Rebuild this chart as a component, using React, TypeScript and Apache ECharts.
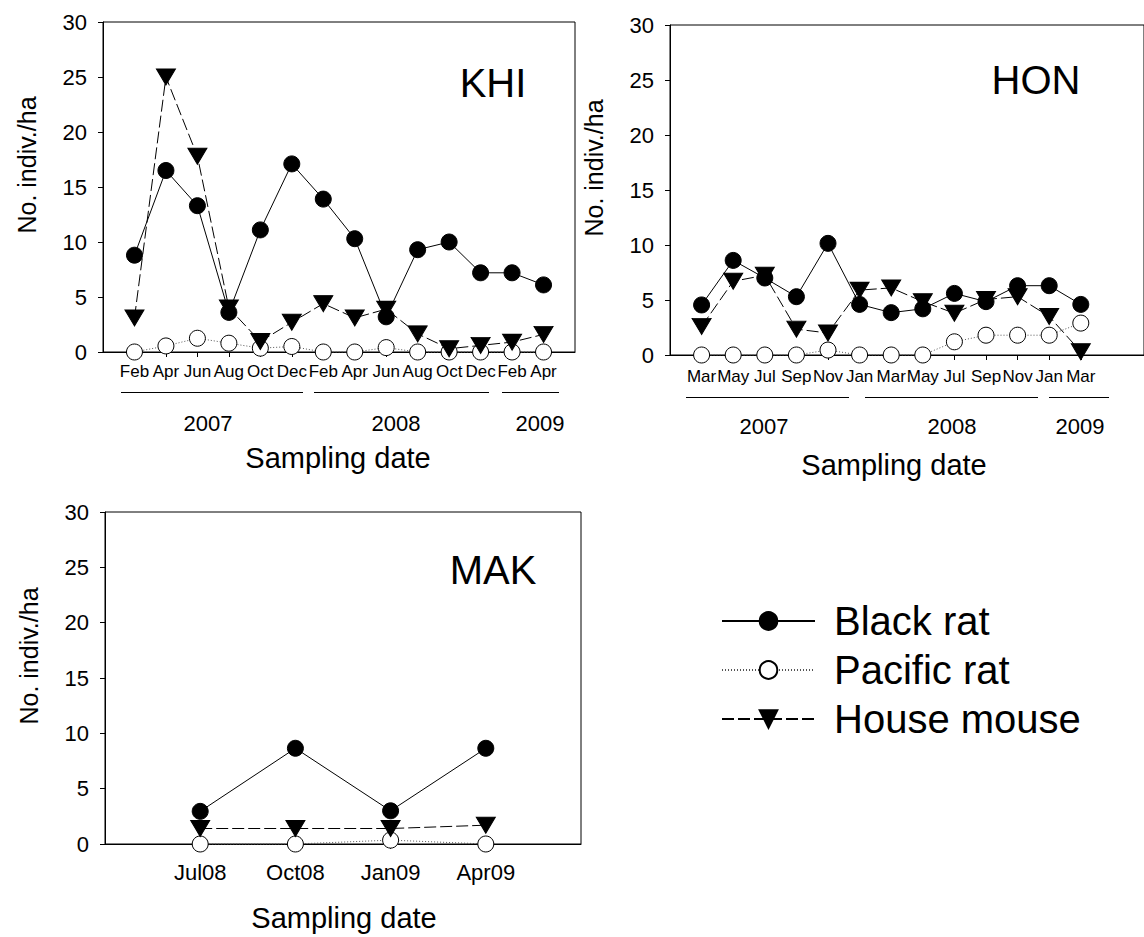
import React, { useEffect, useRef } from "react";
import * as echarts from "echarts";

const FONT = "'Liberation Sans', Arial, Helvetica, sans-serif";

// KHI panel
const khiMonths = ["Feb", "Apr", "Jun", "Aug", "Oct", "Dec", "Feb", "Apr", "Jun", "Aug", "Oct", "Dec", "Feb", "Apr"];
const khiBlack = [8.8, 16.5, 13.3, 3.6, 11.1, 17.1, 13.9, 10.3, 3.2, 9.3, 10.0, 7.2, 7.2, 6.1];
const khiPacific = [0, 0.55, 1.25, 0.8, 0.35, 0.5, 0, 0, 0.4, 0, 0, 0, 0, 0];
const khiMouse = [3.1, 25.0, 17.8, 4.0, 0.95, 2.7, 4.4, 3.1, 3.9, 1.65, 0.3, 0.6, 0.9, 1.6];

// HON panel
const honMonths = ["Mar", "May", "Jul", "Sep", "Nov", "Jan", "Mar", "May", "Jul", "Sep", "Nov", "Jan", "Mar"];
const honBlack = [4.55, 8.6, 7.0, 5.3, 10.15, 4.6, 3.85, 4.2, 5.6, 4.85, 6.3, 6.3, 4.6];
const honPacific = [0, 0, 0, 0, 0.45, 0, 0, 0, 1.2, 1.8, 1.8, 1.8, 2.9];
const honMouse = [2.6, 6.7, 7.25, 2.35, 2.0, 5.9, 6.1, 4.85, 3.8, 5.05, 5.3, 3.5, 0.3];

// MAK panel
const makLabels = ["Jul08", "Oct08", "Jan09", "Apr09"];
const makBlack = [2.95, 8.65, 3.0, 8.65];
const makPacific = [0, 0, 0.35, 0];
const makMouse = [1.4, 1.4, 1.4, 1.7];

const yTicks = [0, 5, 10, 15, 20, 25, 30];
const speciesNames = ["Black rat", "Pacific rat", "House mouse"];

const toPairs = (arr: number[]) => arr.map((v, i) => [i + 1, v]);
const range1 = (n: number) => Array.from({ length: n }, (_, i) => i + 1);

function xAxisFor(gridIndex: number, max: number, labels: string[], fontSize: number, margin: number) {
  return {
    type: "value",
    gridIndex,
    min: 0,
    max,
    interval: 1,
    axisLine: { show: true, onZero: false, lineStyle: { color: "#000", width: 1 } },
    axisTick: { show: true, inside: false, length: 5, customValues: range1(labels.length), lineStyle: { color: "#000" } },
    axisLabel: {
      show: true,
      customValues: range1(labels.length),
      formatter: (v: number) => labels[Math.round(v) - 1] ?? "",
      color: "#000",
      fontFamily: FONT,
      fontSize,
      margin,
    },
    splitLine: { show: false },
  };
}

function yAxisFor(gridIndex: number) {
  return {
    type: "value",
    gridIndex,
    min: 0,
    max: 30,
    interval: 5,
    name: "No. indiv./ha",
    nameLocation: "middle",
    nameRotate: 90,
    nameGap: 64,
    nameTextStyle: { color: "#000", fontFamily: FONT, fontSize: 25, padding: [0, 0, 0, 44] },
    axisLine: { show: true, lineStyle: { color: "#000", width: 1 } },
    axisTick: { show: true, inside: false, length: 5, lineStyle: { color: "#000" } },
    axisLabel: {
      color: "#000",
      fontFamily: FONT,
      fontSize: 22,
      margin: 16,
      formatter: (v: number) => (yTicks.includes(v) ? String(v) : ""),
    },
    splitLine: { show: false },
  };
}

function seriesFor(idx: number, black: number[], pacific: number[], mouse: number[]) {
  return [
    {
      name: speciesNames[0],
      type: "line",
      xAxisIndex: idx,
      yAxisIndex: idx,
      data: toPairs(black),
      symbol: "circle",
      symbolSize: 16,
      clip: false,
      lineStyle: { color: "#000", width: 1, type: "solid" },
      itemStyle: { color: "#000", borderColor: "#000", borderWidth: 1 },
      z: 2,
    },
    {
      name: speciesNames[1],
      type: "line",
      xAxisIndex: idx,
      yAxisIndex: idx,
      data: toPairs(pacific),
      symbol: "circle",
      symbolSize: 16,
      clip: false,
      lineStyle: { color: "#555", width: 1, type: [1, 2] },
      itemStyle: { color: "#fff", borderColor: "#000", borderWidth: 1 },
      z: 3,
    },
    {
      name: speciesNames[2],
      type: "line",
      xAxisIndex: idx,
      yAxisIndex: idx,
      data: toPairs(mouse),
      symbol: "triangle",
      symbolRotate: 180,
      symbolSize: [19, 16],
      clip: false,
      lineStyle: { color: "#000", width: 1, type: [12, 4] },
      itemStyle: { color: "#000", borderColor: "#000", borderWidth: 1 },
      z: 4,
    },
  ];
}

const txt = (x: number, y: number, text: string, fontSize: number) => ({
  type: "text",
  x,
  y,
  style: { text, fill: "#000", font: `${fontSize}px ${FONT}`, align: "center", verticalAlign: "middle" },
});

const hline = (x1: number, x2: number, y: number) => ({
  type: "line",
  shape: { x1, y1: y + 0.5, x2, y2: y + 0.5 },
  style: { stroke: "#000", lineWidth: 1 },
});

export default function App() {
  const ref = useRef<HTMLDivElement>(null);

  useEffect(() => {
    if (!ref.current) return;
    const chart = echarts.init(ref.current, null, { renderer: "svg" });
    const option = {
      animation: false,
      backgroundColor: "#fff",
      grid: [
        { left: 103, top: 22, width: 472, height: 330, show: true, borderColor: "#000", borderWidth: 1, backgroundColor: "transparent" },
        { left: 670, top: 25, width: 484, height: 330, show: true, borderColor: "#000", borderWidth: 1, backgroundColor: "transparent" },
        { left: 105, top: 512, width: 476, height: 332, show: true, borderColor: "#000", borderWidth: 1, backgroundColor: "transparent" },
      ],
      xAxis: [
        xAxisFor(0, 15, khiMonths, 17, 11),
        xAxisFor(1, 15, honMonths, 17, 13),
        xAxisFor(2, 5, makLabels, 22, 17),
      ],
      yAxis: [yAxisFor(0), yAxisFor(1), yAxisFor(2)],
      legend: {
        data: speciesNames,
        orient: "vertical",
        left: 716,
        top: 594,
        itemWidth: 93,
        itemHeight: 22,
        itemGap: 5,
        selectedMode: false,
        textStyle: { color: "#000", fontFamily: FONT, fontSize: 40, lineHeight: 44, padding: [0, 0, 0, 14] },
      },
      series: [
        ...seriesFor(0, khiBlack, khiPacific, khiMouse),
        ...seriesFor(1, honBlack, honPacific, honMouse),
        ...seriesFor(2, makBlack, makPacific, makMouse),
      ],
      graphic: [
        txt(493, 83, "KHI", 40),
        txt(1036, 80, "HON", 40),
        txt(493, 570, "MAK", 40),
        // KHI year markers
        hline(121, 303, 392),
        hline(314, 489, 392),
        hline(502, 559, 392),
        txt(208, 423, "2007", 22),
        txt(396, 423, "2008", 22),
        txt(540, 423, "2009", 22),
        txt(338, 458, "Sampling date", 29),
        // HON year markers
        hline(686, 849, 397),
        hline(865, 1038, 397),
        hline(1049, 1109, 397),
        txt(764, 426, "2007", 22),
        txt(952, 426, "2008", 22),
        txt(1080, 426, "2009", 22),
        txt(894, 465, "Sampling date", 29),
        // MAK
        txt(344, 918, "Sampling date", 29),
      ],
    };
    chart.setOption(option as any);
    return () => chart.dispose();
  }, []);

  return (
    <div
      ref={ref}
      style={{ position: "absolute", left: 0, top: 0, width: 1144, height: 937, overflow: "hidden", background: "#fff" }}
    />
  );
}
